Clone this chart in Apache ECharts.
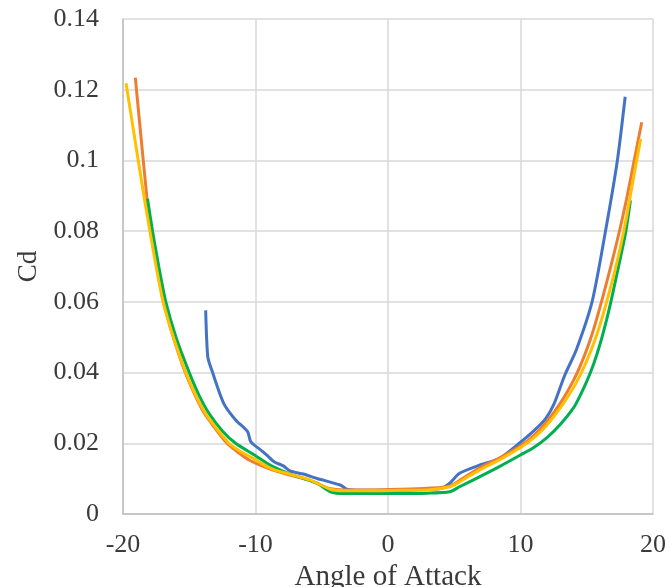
<!DOCTYPE html>
<html>
<head>
<meta charset="utf-8">
<script src="https://cdn.jsdelivr.net/npm/echarts@6/dist/echarts.min.js"></script>
<style>
  html, body { margin: 0; padding: 0; background: #fff; }
  #chart { width: 669px; height: 587px; }
</style>
</head>
<body>
<div id="chart"></div>
<script>
  // axis ticks
  const xTicks = [-20, -10, 0, 10, 20];
  const yTicks = [0, 0.02, 0.04, 0.06, 0.08, 0.1, 0.12, 0.14];

  // series 1 (blue)
  const blueAoA = [-13.76, -13.6, -13.3, -12.4, -11.5, -10.6, -10.35, -9.5, -9.1, -8.6, -7.9, -7.4, -6.4, -5.4, -3.6, -3.1, -2, 0, 2, 4, 4.66, 5.4, 6.9, 8.4, 10, 11, 11.9, 12.55, 13.2, 13.45, 14.2, 15.4, 16.4, 17.3, 17.9];
  const blueCd = [0.0576, 0.0444, 0.0407, 0.0313, 0.0266, 0.0233, 0.0204, 0.0178, 0.0165, 0.0148, 0.0136, 0.0122, 0.0113, 0.0101, 0.0082, 0.0070, 0.0067, 0.0067, 0.0068, 0.0072, 0.0087, 0.0115, 0.0138, 0.0157, 0.0203, 0.0235, 0.0270, 0.0313, 0.0379, 0.0402, 0.0463, 0.0600, 0.0797, 0.0997, 0.1180];

  // series 2 (orange)
  const orangeAoA = [-19.07, -18.6, -18.2, -17.9, -17.45, -16.95, -16.2, -15.3, -14.55, -13.85, -13.1, -12.15, -11.3, -10.45, -8.9, -7.4, -5.9, -4.4, -3.3, -1, 1, 3, 4.6, 5.4, 6.9, 8.4, 10, 11, 12, 13, 14, 14.5, 15, 15.5, 16, 16.5, 17, 17.5, 18, 18.5, 19.15];
  const orangeCd = [0.1234, 0.1050, 0.0897, 0.0800, 0.0700, 0.0600, 0.0500, 0.0400, 0.0335, 0.0284, 0.0245, 0.0200, 0.0174, 0.0152, 0.0127, 0.0110, 0.0095, 0.0072, 0.0068, 0.0068, 0.0070, 0.0073, 0.0078, 0.0095, 0.0130, 0.0158, 0.0193, 0.0222, 0.0262, 0.0313, 0.0378, 0.0418, 0.0465, 0.0520, 0.0585, 0.0655, 0.0728, 0.0805, 0.0890, 0.0985, 0.1108];

  // series 3 (yellow)
  const yellowAoA = [-19.77, -18.85, -18.4, -17.97, -17.5, -16.97, -16.2, -15.26, -14.5, -13.76, -13.0, -12.0, -11.2, -10.3, -8.87, -7.37, -5.86, -4.36, -3.36, -1, 1, 3, 4.66, 5.4, 6.9, 8.4, 10, 11, 12, 13, 14, 14.5, 15, 15.5, 16, 16.5, 17, 17.5, 18, 18.5, 19.07];
  const yellowCd = [0.1218, 0.1000, 0.0895, 0.0800, 0.0700, 0.0600, 0.0500, 0.0400, 0.0335, 0.0284, 0.0245, 0.0200, 0.0178, 0.0160, 0.0129, 0.0112, 0.0096, 0.0070, 0.0066, 0.0066, 0.0067, 0.0068, 0.0077, 0.0091, 0.0124, 0.0153, 0.0188, 0.0215, 0.0252, 0.0300, 0.0358, 0.0393, 0.0433, 0.0480, 0.0535, 0.0600, 0.0670, 0.0748, 0.0840, 0.0945, 0.1061];

  // series 4 (green)
  const greenAoA = [-18.15, -17.77, -17.3, -16.77, -16.0, -15.0, -14.25, -13.5, -12.5, -11.5, -10.0, -8.87, -7.37, -5.36, -4.36, -3.3, 0, 3, 4.66, 5.4, 6.9, 8.4, 10, 11, 12, 13, 14, 14.5, 15, 15.5, 16, 16.5, 16.85, 17.4, 17.94, 18.3];
  const greenCd = [0.0892, 0.0800, 0.0700, 0.0600, 0.0500, 0.0400, 0.0335, 0.0284, 0.0235, 0.0200, 0.0165, 0.0138, 0.0113, 0.0087, 0.0063, 0.0058, 0.0058, 0.0059, 0.0063, 0.0077, 0.0105, 0.0134, 0.0167, 0.0188, 0.0216, 0.0253, 0.0300, 0.0335, 0.0375, 0.0422, 0.0480, 0.0550, 0.0605, 0.0700, 0.0797, 0.0887];

  const zip = (xs, ys) => xs.map((x, i) => [x, ys[i]]);

  const font = 'Liberation Serif';
  const textColor = '#3a3a3a';
  const gridColor = '#d9d9d9';

  const chart = echarts.init(document.getElementById('chart'));

  const lineSeries = (name, xs, ys, color) => ({
    name,
    type: 'line',
    data: zip(xs, ys),
    showSymbol: false,
    smooth: 0.25,
    lineStyle: { color, width: 3 },
    itemStyle: { color }
  });

  chart.setOption({
    animation: false,
    grid: { left: 123, right: 16, top: 19, bottom: 73, containLabel: false, outerBoundsMode: 'none' },
    xAxis: {
      type: 'value',
      min: xTicks[0],
      max: xTicks[xTicks.length - 1],
      interval: 10,
      name: 'Angle of Attack',
      nameLocation: 'middle',
      nameGap: 55,
      nameTextStyle: { fontFamily: font, fontSize: 29, color: textColor, verticalAlign: 'middle' },
      axisLine: { show: true, onZero: false, lineStyle: { color: '#bfbfbf', width: 1.5 } },
      axisTick: { show: false },
      axisLabel: { fontFamily: font, fontSize: 26, color: textColor, margin: 18 },
      splitLine: { show: true, lineStyle: { color: gridColor, width: 1.5 } }
    },
    yAxis: {
      type: 'value',
      min: yTicks[0],
      max: yTicks[yTicks.length - 1],
      interval: 0.02,
      name: 'Cd',
      nameLocation: 'middle',
      nameGap: 74,
      nameTextStyle: { fontFamily: font, fontSize: 27, color: textColor, verticalAlign: 'middle' },
      axisLine: { show: true, onZero: false, lineStyle: { color: '#bfbfbf', width: 1.5 } },
      axisTick: { show: false },
      axisLabel: {
        fontFamily: font, fontSize: 26, color: textColor, margin: 24,
        formatter: v => String(+v.toFixed(2))
      },
      splitLine: { show: true, lineStyle: { color: gridColor, width: 1.5 } }
    },
    series: [
      lineSeries('Series 1', blueAoA, blueCd, '#4472C4'),
      lineSeries('Series 2', orangeAoA, orangeCd, '#ED7D31'),
      lineSeries('Series 4', greenAoA, greenCd, '#00B050'),
      lineSeries('Series 3', yellowAoA, yellowCd, '#FFC000')
    ]
  });
</script>
</body>
</html>
